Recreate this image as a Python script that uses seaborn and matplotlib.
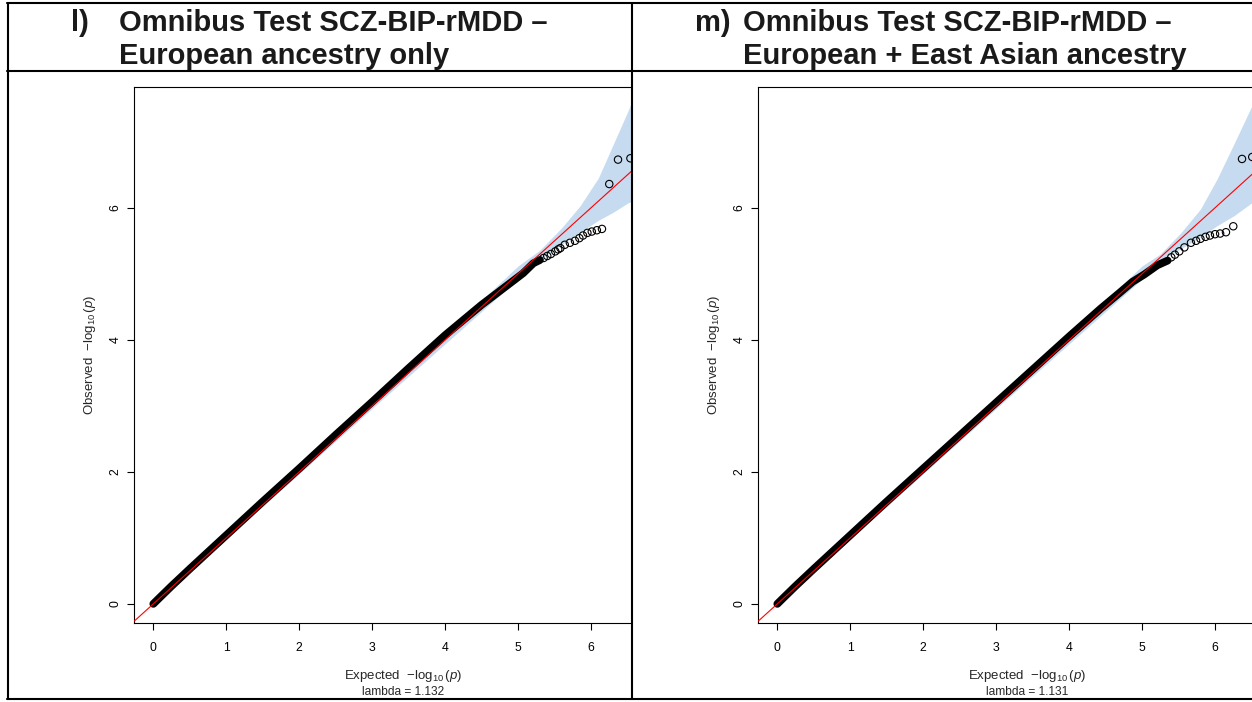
import numpy as np
import pandas as pd
import matplotlib
matplotlib.use("Agg")
import matplotlib.pyplot as plt
import seaborn as sns
from matplotlib.lines import Line2D
from matplotlib.patches import Rectangle

# ---- data (expected vs observed -log10 p) ----
# panel l) European ancestry only
dense_exp_l = [0.0, 0.12, 0.25, 0.5, 1.0, 1.5, 2.0, 2.5, 3.0, 3.5, 4.0, 4.5, 4.75, 4.94, 5.07, 5.21, 5.30]
dense_obs_l = [0.0, 0.13, 0.27, 0.53, 1.04, 1.55, 2.05, 2.56, 3.06, 3.57, 4.07, 4.53, 4.74, 4.90, 5.01, 5.16, 5.21]
tail_exp_l = [5.35, 5.40, 5.45, 5.51, 5.55, 5.58, 5.64, 5.71, 5.78, 5.84, 5.89, 5.95, 6.01, 6.08, 6.15, 6.25, 6.37, 6.54]
tail_obs_l = [5.24, 5.27, 5.30, 5.34, 5.37, 5.39, 5.44, 5.47, 5.50, 5.54, 5.58, 5.62, 5.64, 5.66, 5.68, 6.36, 6.73, 6.75]
band_exp_l = [0.0, 1.0, 2.0, 3.0, 4.0, 4.5, 5.0, 5.3, 5.6, 5.85, 6.1, 6.3, 6.5, 6.7]
band_lo_l = [0.0, 0.98, 1.97, 2.96, 3.94, 4.43, 4.92, 5.22, 5.45, 5.63, 5.81, 5.93, 6.07, 6.17]
band_hi_l = [0.0, 1.02, 2.04, 3.05, 4.07, 4.60, 5.12, 5.36, 5.70, 6.03, 6.45, 6.95, 7.45, 8.00]
lambda_l = "1.132"

# panel m) European + East Asian ancestry
dense_exp_m = [0.0, 0.12, 0.25, 0.5, 1.0, 1.5, 2.0, 2.5, 3.0, 3.5, 4.0, 4.43, 4.70, 4.87, 5.03, 5.21, 5.35]
dense_obs_m = [0.0, 0.13, 0.27, 0.53, 1.04, 1.55, 2.05, 2.55, 3.05, 3.55, 4.05, 4.47, 4.72, 4.88, 4.99, 5.13, 5.20]
tail_exp_m = [5.40, 5.45, 5.51, 5.58, 5.67, 5.74, 5.80, 5.87, 5.93, 6.00, 6.07, 6.15, 6.25, 6.37, 6.51]
tail_obs_m = [5.25, 5.29, 5.34, 5.40, 5.47, 5.50, 5.53, 5.56, 5.58, 5.60, 5.61, 5.63, 5.72, 6.74, 6.77]
band_exp_m = [0.0, 1.0, 2.0, 3.0, 4.0, 4.5, 5.0, 5.25, 5.53, 5.8, 6.03, 6.26, 6.52, 6.7]
band_lo_m = [0.0, 0.98, 1.97, 2.96, 3.94, 4.43, 4.92, 5.20, 5.38, 5.56, 5.73, 5.88, 6.09, 6.17]
band_hi_m = [0.0, 1.02, 2.04, 3.05, 4.07, 4.60, 5.12, 5.30, 5.62, 5.98, 6.44, 6.97, 7.58, 8.00]
lambda_m = "1.131"

titles = [("l)", "Omnibus Test SCZ-BIP-rMDD \u2013", "European ancestry only"),
          ("m)", "Omnibus Test SCZ-BIP-rMDD \u2013", "European + East Asian ancestry")]
x_ticks = [0, 1, 2, 3, 4, 5, 6]
y_ticks = [0, 2, 4, 6]

sns.set_theme(style="white")
plt.rcParams["font.family"] = ["Liberation Sans", "DejaVu Sans"]
plt.rcParams["mathtext.fontset"] = "custom"
plt.rcParams["mathtext.rm"] = "Liberation Sans"
plt.rcParams["mathtext.it"] = "Liberation Sans:italic"

W, H = 1252, 702
fig = plt.figure(figsize=(W / 100, H / 100), dpi=100)
fig.patch.set_facecolor("white")


def fx(px):
    return px / W


def fy(py):
    return 1 - py / H


def qq_panel(left_px, dense_x, dense_y, tail_x, tail_y, bx, blo, bhi, lam):
    ax = fig.add_axes([fx(left_px), fy(623), (672 - 134) / W, (623 - 87) / H])
    ax.set_xlim(-0.265, 7.11)
    ax.set_ylim(-0.29, 7.83)
    ax.fill_between(bx, blo, bhi, color="#c6dbef", lw=0, zorder=1)
    sns.lineplot(x=dense_x, y=dense_y, color="black", linewidth=5.6, sort=False,
                 solid_capstyle="round", ax=ax, zorder=2)
    sns.scatterplot(x=tail_x, y=tail_y, marker="o", s=28, facecolor="none",
                    edgecolor="black", linewidth=0.8, ax=ax, zorder=3)
    ax.axline((0, 0), slope=1, color="red", lw=0.8, zorder=4)
    ax.set_xticks(x_ticks)
    ax.set_yticks(y_ticks)
    ax.tick_params(direction="out", length=5, width=0.8, colors="black",
                   labelsize=8.8, bottom=True, left=True)
    ax.tick_params(axis="x", pad=9)
    ax.tick_params(axis="y", pad=4)
    for lab in ax.get_yticklabels():
        lab.set_rotation(90)
        lab.set_va("center")
    for s in ax.spines.values():
        s.set_color("black")
        s.set_linewidth(0.8)
    ax.set_xlabel(r"Expected  $-\log_{10}(p)$", fontsize=9.5, labelpad=10)
    ax.set_ylabel(r"Observed  $-\log_{10}(p)$", fontsize=9.5, labelpad=8)
    ax.annotate("lambda = " + lam, xy=(0.5, 0), xycoords="axes fraction",
                xytext=(0, -50), textcoords="offset points",
                ha="center", va="center", fontsize=8.6)
    return ax


qq_panel(134, dense_exp_l, dense_obs_l, tail_exp_l, tail_obs_l,
         band_exp_l, band_lo_l, band_hi_l, lambda_l)
qq_panel(758, dense_exp_m, dense_obs_m, tail_exp_m, tail_obs_m,
         band_exp_m, band_lo_m, band_hi_m, lambda_m)

# hide the part of the left plot that runs under the right cell
fig.add_artist(Rectangle((fx(632.5), fy(698)), (690 - 632.5) / W, (698 - 72) / H,
                         transform=fig.transFigure, facecolor="white",
                         edgecolor="none", zorder=5))

# table borders
lw_tab = 1.5
for py in [3, 71, 699]:
    fig.add_artist(Line2D([fx(7), fx(1252)], [fy(py), fy(py)], color="black",
                          lw=lw_tab, transform=fig.transFigure, zorder=6))
for px in [8, 631.5]:
    fig.add_artist(Line2D([fx(px), fx(px)], [fy(3), fy(699)], color="black",
                          lw=lw_tab, transform=fig.transFigure, zorder=6))

# cell titles
for cell_left, (tag, line1, line2) in zip([7, 631], titles):
    fig.text(fx(cell_left + 64), fy(31), tag, fontsize=21, fontweight="bold",
             va="baseline", ha="left", color="#1a1a1a")
    fig.text(fx(cell_left + 112), fy(31), line1, fontsize=21, fontweight="bold",
             va="baseline", ha="left", color="#1a1a1a")
    fig.text(fx(cell_left + 112), fy(64), line2, fontsize=21, fontweight="bold",
             va="baseline", ha="left", color="#1a1a1a")

fig.savefig("out.png", dpi=100, facecolor="white")
